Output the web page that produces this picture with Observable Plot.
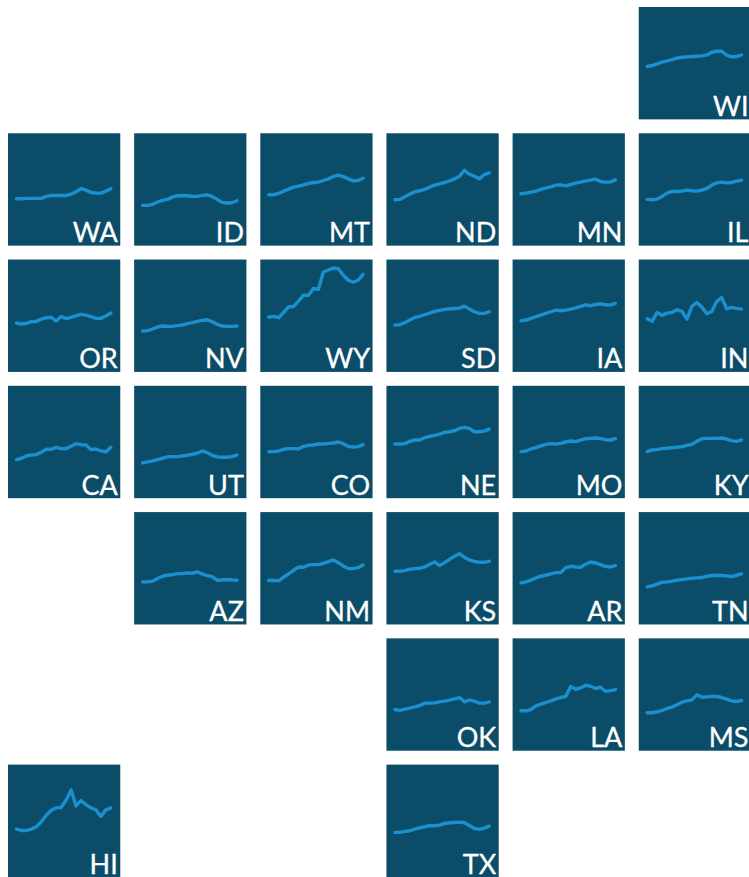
<!DOCTYPE html>
<html>
<head>
<meta charset="utf-8">
<script src="https://cdn.jsdelivr.net/npm/d3@7"></script>
<script src="https://cdn.jsdelivr.net/npm/@observablehq/plot@0.6"></script>
<style>
html,body{margin:0;padding:0;background:#fff;overflow:hidden;width:749px;height:877px}
svg{display:block}
</style>
</head>
<body>
<div id="chart"></div>
<script>
const states = ["WI","WA","ID","MT","ND","MN","IL","OR","NV","WY","SD","IA","IN","CA","UT","CO","NE","MO","KY","AZ","NM","KS","AR","TN","OK","LA","MS","HI","TX"];
const gridColumn = [5,0,1,2,3,4,5,0,1,2,3,4,5,0,1,2,3,4,5,1,2,3,4,5,3,4,5,0,3];
const gridRow =    [0,1,1,1,1,1,1,2,2,2,2,2,2,3,3,3,3,3,3,4,4,4,4,4,5,5,5,6,6];

const WI = [158,161,166,171,175,179,183,186,187,188,189,190,193,201,204,204,192,187,188,193];
const WA = [140,140,141,141,141,141,147,150,150,150,150,154,161,171,166,159,157,157,163,170];
const ID = [120,120,123,130,135,138,145,149,150,149,147,147,150,152,147,138,129,127,128,134];
const MT = [152,152,156,163,169,175,178,182,186,189,190,195,200,207,211,207,200,194,195,202];
const ND = [137,138,146,154,161,164,168,175,181,185,189,194,200,208,226,214,208,200,213,218];
const MN = [155,157,160,163,168,173,176,181,182,179,183,187,190,194,196,199,192,190,191,197];
const IL = [138,137,139,147,157,162,162,163,166,164,163,166,171,181,188,190,188,189,193,196];
const OR = [146,143,145,150,151,158,162,163,152,166,159,163,168,172,170,165,160,160,167,176];
const NV = [122,123,128,134,137,136,136,138,140,144,147,151,154,156,150,142,137,136,136,137];
const WY = [164,166,162,178,195,196,212,230,230,250,248,300,306,312,310,290,275,269,275,293];
const SD = [140,141,147,155,163,166,171,176,181,184,187,189,190,191,197,188,180,175,175,180];
const IA = [153,155,160,165,170,175,180,185,183,185,188,192,196,201,198,202,204,201,200,205];
const IN = [159,151,178,169,176,178,186,181,158,196,208,194,174,181,211,223,189,193,190,188];
const CA = [115,119,126,129,130,137,146,146,152,148,148,155,163,160,159,145,147,141,138,152];
const UT = [105,108,111,115,119,123,124,124,126,128,131,134,141,136,128,123,122,122,124,129];
const CO = [139,139,141,146,148,148,147,155,158,159,162,162,164,165,168,163,155,153,154,160];
const NE = [162,162,163,170,174,174,181,185,188,192,197,199,202,209,212,209,199,199,201,207];
const MO = [139,141,147,151,156,161,163,162,164,168,171,169,174,178,179,180,178,175,174,178];
const KY = [139,144,145,148,149,151,152,154,158,161,170,178,179,179,179,180,177,172,170,174];
const AZ = [127,127,129,137,144,147,149,152,152,154,153,157,151,146,143,132,133,134,133,132];
const NM = [131,132,130,141,151,162,172,171,178,179,179,183,188,193,185,175,167,167,170,178];
const KS = [159,159,161,165,167,168,172,180,187,176,185,195,204,212,201,193,189,186,186,189];
const AR = [124,127,132,139,144,147,151,155,155,170,174,172,171,180,187,184,179,174,172,176];
const TN = [112,115,120,126,127,129,132,134,136,138,139,140,144,146,147,146,145,143,147,151];
const OK = [123,120,124,127,131,135,142,142,143,146,148,151,155,159,146,152,148,142,142,146];
const LA = [119,119,123,134,139,144,149,155,159,162,192,184,188,196,193,186,190,178,180,183];
const MS = [113,113,116,120,126,130,137,145,149,152,167,160,161,162,162,159,154,149,147,150];
const HI = [143,139,139,143,150,165,185,200,207,208,231,261,213,229,217,207,201,181,201,207];
const TX = [133,133,136,138,143,147,150,153,153,155,160,162,163,164,162,154,145,142,146,152];

const seriesByState = {WI,WA,ID,MT,ND,MN,IL,OR,NV,WY,SD,IA,IN,CA,UT,CO,NE,MO,KY,AZ,NM,KS,AR,TN,OK,LA,MS,HI,TX};

const tiles = states.map((state, i) => ({state, col: gridColumn[i], row: gridRow[i]}));
const points = tiles.flatMap(t => seriesByState[t.state].map((value, step) => ({...t, step, value})));

const xMin = -1.6, xMax = 21, yMin = -3, yMax = 336;

const plot = Plot.plot({
  width: 751,
  height: 877,
  marginTop: 7,
  marginRight: 0,
  marginBottom: 0,
  marginLeft: 8,
  style: {background: "#fff", overflow: "hidden", maxWidth: "none"},
  fx: {domain: d3.range(6), axis: null, paddingInner: 0.11, paddingOuter: 0, round: false},
  fy: {domain: d3.range(7), axis: null, paddingInner: 0.11, paddingOuter: 0, round: false},
  x: {domain: [xMin, xMax], axis: null},
  y: {domain: [yMin, yMax], axis: null},
  marks: [
    Plot.rect(tiles, {x1: xMin, x2: xMax, y1: yMin, y2: yMax, fx: "col", fy: "row", fill: "#0b4d68"}),
    Plot.line(points, {x: "step", y: "value", z: "state", fx: "col", fy: "row", stroke: "#1a90d0", strokeWidth: 3.4}),
    Plot.text(tiles, {text: "state", fx: "col", fy: "row", frameAnchor: "bottom-right", dx: -3, dy: -4, fill: "#fff", stroke: "#fff", strokeWidth: 0.3, fontSize: 27, fontFamily: "Lato"})
  ]
});
document.getElementById("chart").append(plot);
</script>
</body>
</html>
